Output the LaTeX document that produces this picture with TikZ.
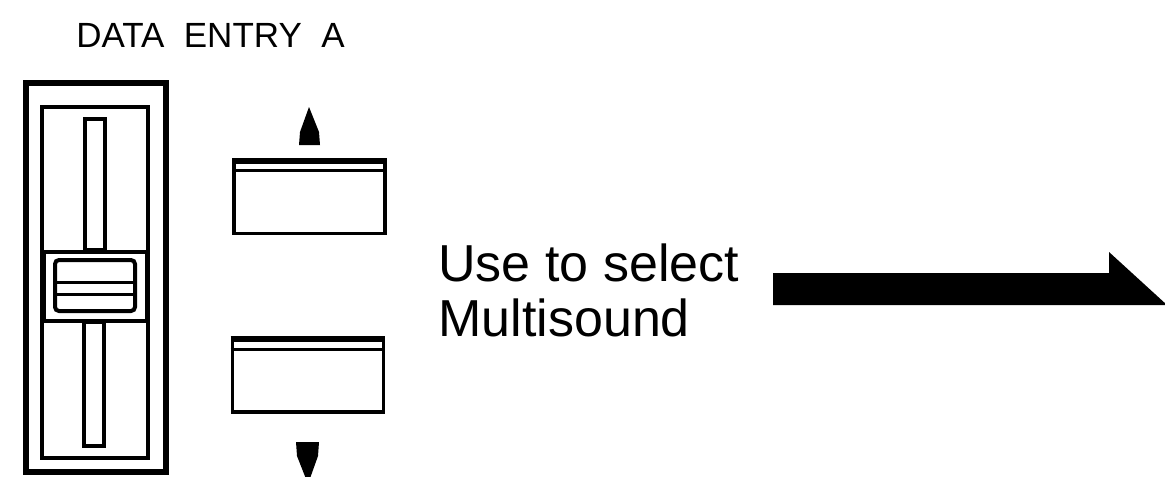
\documentclass[tikz,border=0pt]{standalone}
\usepackage{fontspec}
\setmainfont{Liberation Sans}
\usetikzlibrary{positioning, calc}
\tikzset{
  every picture/.style={line join=miter},
  rimline/.style={draw=black, line width=3pt},
  slotline/.style={draw=black, line width=2pt},
  thinline/.style={draw=black, line width=1.5pt},
  keybox/.style={rectangle, draw=black, line width=1.8pt, minimum width=75.5pt, minimum height=37pt, inner sep=0pt},
  label/.style={font=\fontsize{26}{27.5}\selectfont, inner sep=0pt, anchor=base west},
  title/.style={font=\fontsize{17.5}{20}\selectfont, inner sep=0pt},
}

\begin{document}
\begin{tikzpicture}[x=0.5pt, y=-0.5pt]
  \useasboundingbox (0,0) rectangle (1165,476);
  \clip (0,0) rectangle (1165,476);

  \node[title] (title) at (210.5,35) {DATA\ \ ENTRY\ \ A};

  % fader
  \draw[rimline] (26,83) rectangle (166,472);
  \draw[slotline] (42,107) rectangle (148,458);
  \draw[slotline] (85,119) rectangle (105,250);
  \draw[slotline] (84,322) rectangle (104,446);
  \draw[slotline, fill=white] (44,252) rectangle (147,321);
  \draw[slotline, rounded corners=2pt] (55,260) rectangle (135,311);
  \draw[thinline] (55,282) -- (135,282) (55,294) -- (135,294);

  % up / down keys
  \node[keybox] (upkey) at (309.5,196.5) {};
  \node[keybox] (downkey) at (308,375) {};
  \foreach \k in {upkey, downkey} {
    \draw[line width=3pt] ([yshift=-1.5pt]\k.north west) -- ([yshift=-1.5pt]\k.north east);
    \draw[thinline] ([yshift=-6.5pt]\k.north west) -- ([yshift=-6.5pt]\k.north east);
  }
  \fill (309,107) -- (300,132) -- (299,145) -- (320,145) -- (319,132) -- cycle;
  \fill (296,442) -- (319,442) -- (318,456) -- (308,484) -- (297,456) -- cycle;

  \node[label] (usetext) at (438,281) {Use to select};
  \node[label, below=27.5pt of usetext.base west, anchor=base west] (multitext) {Multisound};

  % big arrow
  \fill (773,273) -- (1109,273) -- (1109,252) -- (1167,305) -- (773,305) -- cycle;
\end{tikzpicture}
\end{document}
